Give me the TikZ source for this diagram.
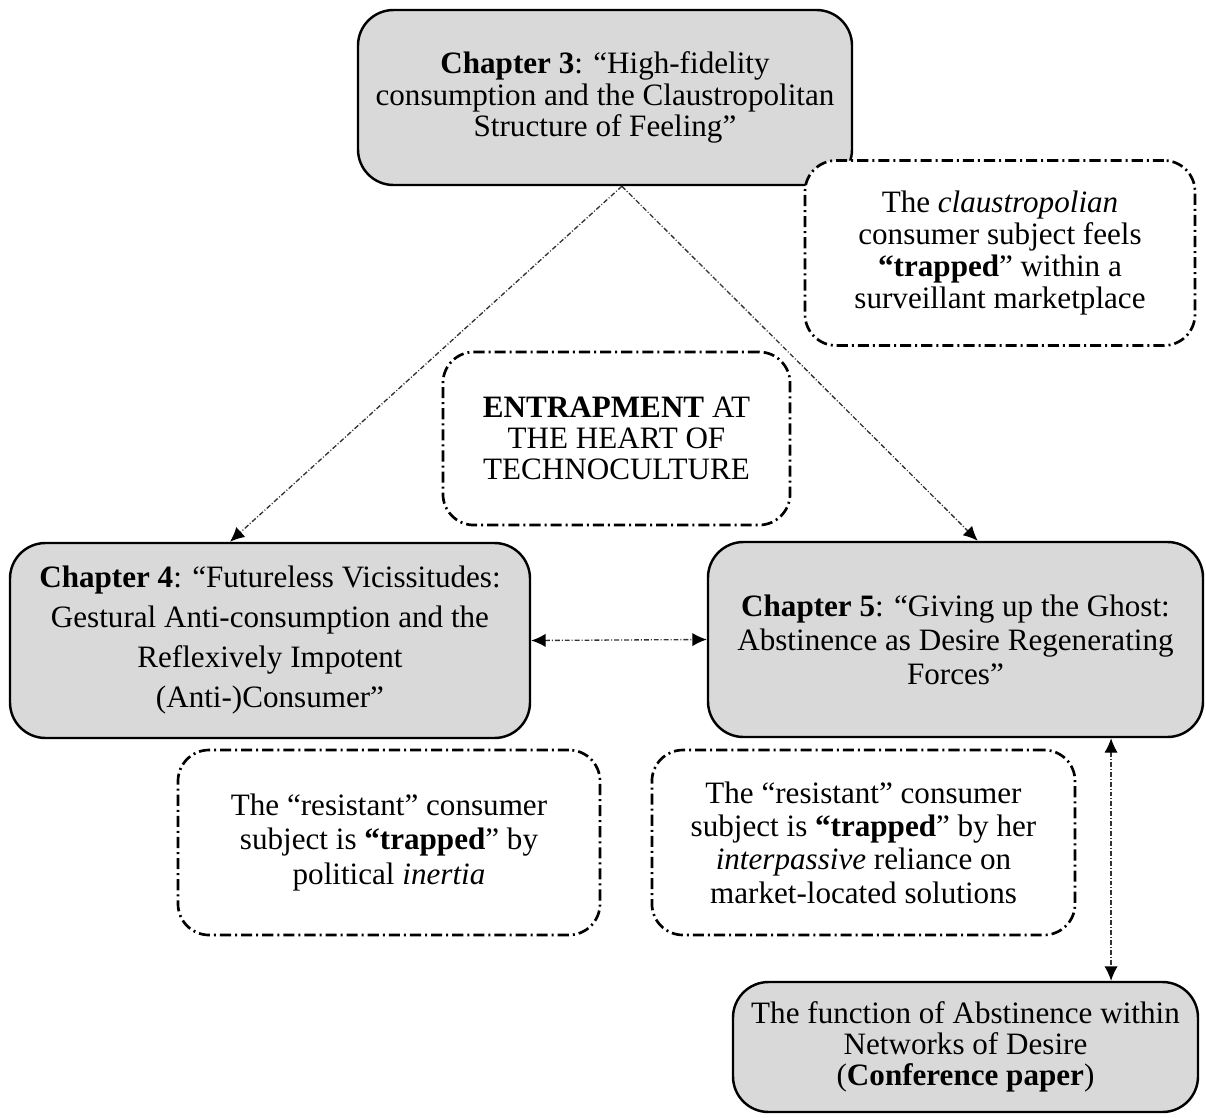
\documentclass[tikz,border=0pt]{standalone}
\usepackage{fontspec}
\setmainfont{Liberation Serif}
\usetikzlibrary{positioning, arrows.meta}
\definecolor{boxgray}{HTML}{D9D9D9}
\definecolor{linkgray}{HTML}{333333}

\begin{document}
\begin{tikzpicture}[x=0.45pt, y=-0.45pt, every node/.style={font=\fontsize{14}{14}\selectfont}]
    % styles
    \tikzstyle{chapter} = [rectangle, rounded corners=16pt, draw=black, line width=1.1pt, fill=boxgray, align=center, inner sep=0pt]
    \tikzstyle{note} = [rectangle, rounded corners=14pt, draw=black, line width=1.2pt, fill=white, align=center, inner sep=0pt, dash pattern=on 5pt off 1.8pt on 0.9pt off 1.8pt]
    \tikzstyle{arrow} = [line width=0.6pt, draw=linkgray, dash pattern=on 2.2pt off 0.9pt on 0.45pt off 0.9pt, >={Latex[length=6.5pt, width=6pt, color=black]}]

    \useasboundingbox (0,0) rectangle (1206,1117);

    % top
    \node (ch3) [chapter, minimum width=222.3pt, minimum height=78.75pt] at (605,97.5) {\textbf{Chapter 3}: “High-fidelity\\ consumption and the Claustropolitan\\ Structure of Feeling”};
    \node (claus) [note, minimum width=175.5pt, minimum height=83.25pt, font=\fontsize{14}{14.4}\selectfont] at (1000,253) {The \textit{claustropolian}\\ consumer subject feels\\ \textbf{“trapped}” within a\\ surveillant marketplace};
    \node (entrap) [note, minimum width=156.2pt, minimum height=77.9pt] at (616.5,438.5) {\textbf{ENTRAPMENT} AT\\ THE HEART OF\\ TECHNOCULTURE};

    % chapters 4 and 5
    \node (ch4) [chapter, minimum width=234pt, minimum height=87.75pt, font=\fontsize{14}{18}\selectfont] at (270,640.5) {\textbf{Chapter 4}: “Futureless Vicissitudes:\\ Gestural Anti-consumption and the\\ Reflexively Impotent\\ (Anti-)Consumer”};
    \node (ch5) [chapter, minimum width=222.75pt, minimum height=87.75pt, font=\fontsize{14}{15.3}\selectfont] at (955.5,639.5) {\textbf{Chapter 5}: “Giving up the Ghost:\\ Abstinence as Desire Regenerating\\ Forces”};

    % notes below
    \node (res1) [note, minimum width=189.9pt, minimum height=83.25pt, font=\fontsize{14}{15.7}\selectfont] at (389,842.5) {The “resistant” consumer\\ subject is \textbf{“trapped}” by\\ political \textit{inertia}};
    \node (res2) [note, minimum width=190.4pt, minimum height=83.25pt, font=\fontsize{14}{15}\selectfont] at (863.5,842.5) {The “resistant” consumer\\ subject is \textbf{“trapped}” by her\\ \textit{interpassive} reliance on\\ market-located solutions};
    \node (conf) [chapter, minimum width=209.25pt, minimum height=58.5pt] at (965.5,1047) {The function of Abstinence within\\ Networks of Desire\\ (\textbf{Conference paper})};

    % links
    \coordinate (apex) at ([xshift=7.6pt]ch3.south);
    \draw [arrow, ->] (apex) -- ([xshift=-18pt]ch4.north);
    \draw [arrow, ->] (apex) -- ([xshift=10pt]ch5.north);
    \draw [arrow, <->] (ch4.east) -- (ch5.west);
    \coordinate (tap) at ([xshift=70pt]ch5.south);
    \draw [arrow, <->] (tap) -- (tap |- conf.north);
\end{tikzpicture}
\end{document}
